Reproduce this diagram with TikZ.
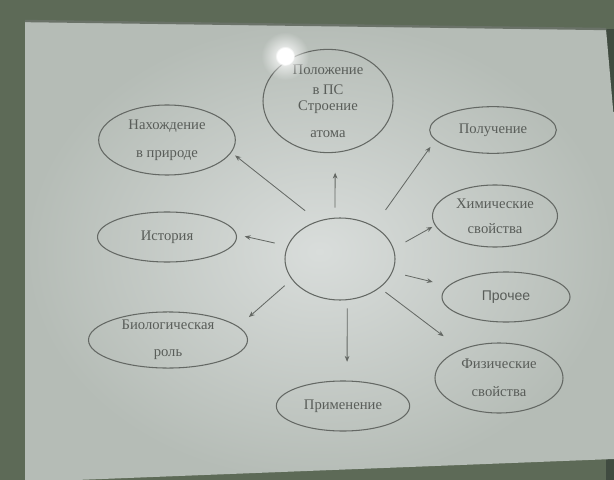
\documentclass[tikz,border=0pt]{standalone}
\usepackage{fontspec}
\setmainfont{Liberation Serif}
\newfontfamily\plainsans{Liberation Sans}
\usetikzlibrary{shapes.geometric,arrows.meta,fadings}

\definecolor{wall}{HTML}{5D6A57}
\definecolor{walldark}{HTML}{404B40}
\definecolor{screenhi}{HTML}{D9DDDB}
\definecolor{screenlo}{HTML}{B5BCB6}
\definecolor{frame}{HTML}{6A7268}
\definecolor{ink}{HTML}{646864}
\definecolor{letters}{HTML}{595D59}

\tikzfading[name=glow, inner color=transparent!0, outer color=transparent!100]

\begin{document}
\begin{tikzpicture}[x=0.03cm, y=-0.03cm]

\tikzset{
  topic/.style={
    ellipse, draw=ink, line width=0.9pt, inner sep=0pt,
    text=letters, align=center,
    font=\fontsize{12.5}{14}\selectfont,
  },
  link/.style={
    draw=ink, line width=0.7pt, -{Stealth[length=5pt,width=4pt]},
  }
}

  \useasboundingbox (0,0) rectangle (614,480);

  % Photo: wall and screen
  \fill[wall] (0,0) rectangle (614,480);
  \fill[walldark] (606,29) rectangle (614,480);
  \shade[inner color=screenhi, outer color=screenlo]
    (25,21) -- (606,29) -- (614,120) -- (614,459) -- (25,482) -- cycle;
  \draw[frame, line width=2pt] (25,21) -- (606,29);

  % Centre
  \node[topic, minimum width=3.3cm, minimum height=2.46cm] (core) at (340,259) {};

  % Left side
  \node[topic, minimum width=4.1cm, minimum height=2.1cm] (find) at (167,140)
    {Нахождение\\[10pt]в природе};
  \node[topic, minimum width=4.17cm, minimum height=1.5cm] (hist) at (167,237)
    {История};
  \node[topic, minimum width=4.77cm, minimum height=1.68cm] (bio) at (168,340)
    {Биологическая\\[9pt]роль};

  % Top and bottom
  \node[topic, minimum width=3.9cm, minimum height=2.94cm] (pos) at (328,101)
    {Положение\\[3pt]в ПС\\Строение\\[9pt]атома};
  \node[topic, minimum width=4.0cm, minimum height=1.5cm] (use) at (343,406)
    {Применение};

  % Right side
  \node[topic, minimum width=3.8cm, minimum height=1.4cm] (get) at (493,130)
    {Получение};
  \node[topic, minimum width=3.75cm, minimum height=1.86cm] (chem) at (495,216)
    {Химические\\[7pt]свойства};
  \node[topic, minimum width=3.84cm, minimum height=1.5cm, font=\plainsans\fontsize{12}{14}\selectfont] (other) at (506,297)
    {Прочее};
  \node[topic, minimum width=3.84cm, minimum height=2.1cm] (phys) at (499,378)
    {Физические\\[10pt]свойства};

  % Arrows
  \draw[link, shorten <=8.5pt, shorten >=17pt] (core.97) -- (pos.278);
  \draw[link, shorten <=14pt, shorten >=4pt] (core.120) -- (find.349);
  \draw[link, shorten <=17pt, shorten >=7pt] (core.44) -- (get.190);
  \draw[link, shorten <=11.5pt, shorten >=2.5pt] (core.11) -- (chem.189);
  \draw[link, shorten <=11pt, shorten >=7pt] (core.166) -- (hist.2);
  \draw[link, shorten <=8pt, shorten >=12pt] (core.203) -- (bio.11);
  \draw[link, shorten <=7pt, shorten >=16pt] (core.280) -- (use.81);
  \draw[link, shorten <=11pt, shorten >=13.5pt] (core.346) -- (other.169);
  \draw[link, shorten <=6pt, shorten >=18.5pt] (core.324) -- (phys.143);

  % Glare of the projector
  \fill[white, path fading=glow] (285,56) circle (24);
  \fill[white, path fading=circle with fuzzy edge 20 percent] (285,56) circle (10);

\end{tikzpicture}
\end{document}
